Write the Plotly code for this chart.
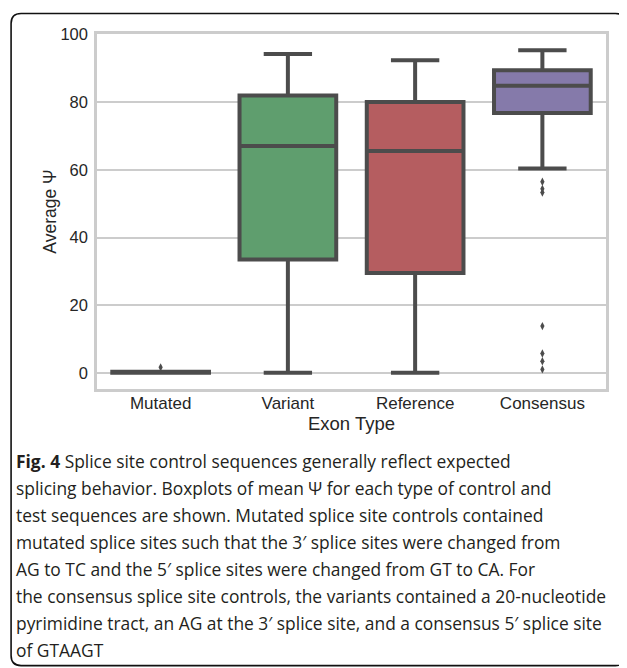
"""Boxplots of mean PSI by exon type, with the figure caption underneath."""

import plotly.graph_objects as go

# ---- data ----
categories = ["Mutated", "Variant", "Reference", "Consensus"]
lower_whisker = [0.0, 0.0, 0.0, 60.4]
q1 = [0.0, 33.5, 29.5, 76.8]
median = [0.0, 67.1, 65.6, 84.9]
q3 = [0.3, 82.0, 80.1, 89.5]
upper_whisker = [0.0, 94.3, 92.4, 95.4]
box_colors = ["#5875a4", "#5f9e6e", "#b55d60", "#857aaa"]

outlier_cats = ["Mutated", "Consensus", "Consensus", "Consensus",
                "Consensus", "Consensus", "Consensus", "Consensus"]
outlier_vals = [1.6, 56.5, 54.4, 53.3, 13.8, 5.7, 3.4, 1.0]

caption_lines = [
    "<b>Fig. 4</b> Splice site control sequences generally reflect expected",
    "splicing behavior. Boxplots of mean Ψ for each type of control and",
    "test sequences are shown. Mutated splice site controls contained",
    "mutated splice sites such that the 3′ splice sites were changed from",
    "AG to TC and the 5′ splice sites were changed from GT to CA. For",
    "the consensus splice site controls, the variants contained a 20-nucleotide",
    "pyrimidine tract, an AG at the 3′ splice site, and a consensus 5′ splice site",
    "of GTAAGT",
]

# the page body adds an 8px margin, so the figure is 8px smaller than the window
OFF = 8
W, H = 627 - OFF, 668 - OFF
L, T = 97 - OFF, 33.5 - OFF
R, B = W - (606.5 - OFF), H - (389 - OFF)
PW, PH = W - L - R, H - T - B
EDGE = "#4c4c4c"
GRID = "#cccccc"


def px(x):
    # window x pixel -> paper coordinate
    return (x - OFF - L) / PW


def py(y):
    return (H - B - (y - OFF)) / PH


fig = go.Figure()
for i, cat in enumerate(categories):
    fig.add_trace(go.Box(
        x=[cat], q1=[q1[i]], median=[median[i]], q3=[q3[i]],
        lowerfence=[lower_whisker[i]], upperfence=[upper_whisker[i]],
        width=0.76, whiskerwidth=0.5, boxpoints=False,
        fillcolor=box_colors[i], line=dict(color=EDGE, width=4),
        showlegend=False, hoverinfo="skip",
    ))

fig.add_trace(go.Scatter(
    x=outlier_cats, y=outlier_vals, mode="markers",
    marker=dict(symbol="diamond-tall", size=6, color=EDGE),
    showlegend=False,
))

# rounded caption frame
x0, x1, y0, y1, r = px(11), px(626), py(13), py(666), 10
rx, ry = r / PW, r / PH
frame = (f"M {x0 + rx},{y0} L {x1 - rx},{y0} Q {x1},{y0} {x1},{y0 - ry} "
         f"L {x1},{y1 + ry} Q {x1},{y1} {x1 - rx},{y1} L {x0 + rx},{y1} "
         f"Q {x0},{y1} {x0},{y1 + ry} L {x0},{y0 - ry} Q {x0},{y0} {x0 + rx},{y0} Z")

annotations = [
    dict(text=line, xref="paper", yref="paper", x=px(14), y=py(461 + 27 * k),
         xanchor="left", yanchor="middle", showarrow=False,
         font=dict(family="Open Sans", size=17.4, color="#231f20"))
    for k, line in enumerate(caption_lines)
]

fig.update_layout(
    width=W, height=H,
    margin=dict(l=L, r=R, t=T, b=B, autoexpand=False),
    paper_bgcolor="white", plot_bgcolor="white",
    font=dict(family="Liberation Sans, Arial", color="#262626"),
    shapes=[dict(type="path", path=frame, xref="paper", yref="paper",
                 line=dict(color="#111111", width=1.6), layer="above")],
    annotations=annotations,
)
fig.update_xaxes(
    range=[-0.5, 3.5], showgrid=False, showline=True, mirror=True,
    linecolor=GRID, linewidth=2.5, ticks="", tickfont=dict(size=17),
    ticklabelstandoff=-3,
    title=dict(text="Exon Type", font=dict(size=18.5), standoff=0),
)
fig.update_yaxes(
    range=[-4.8, 100.2], tickvals=[0, 20, 40, 60, 80, 100],
    showgrid=True, gridcolor=GRID, gridwidth=2, zeroline=False,
    showline=True, mirror=True, linecolor=GRID, linewidth=2.5,
    ticks="", tickfont=dict(size=16.5), ticklabelstandoff=3,
    title=dict(text="Average Ψ", font=dict(size=17.5), standoff=0),
)

fig.write_html("out.html")
